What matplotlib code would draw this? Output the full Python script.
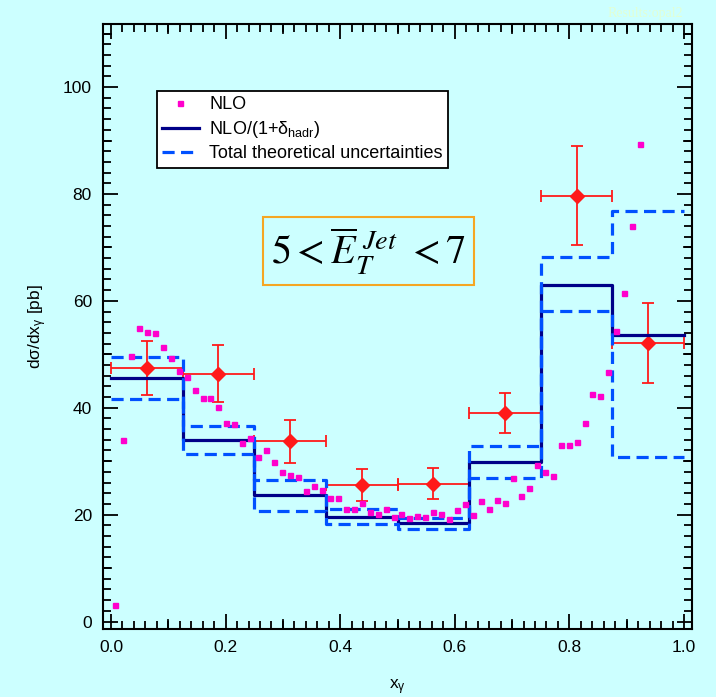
import matplotlib.pyplot as plt
import matplotlib.ticker as mticker
import numpy as np

plt.rcParams['font.family'] = ['Liberation Sans', 'DejaVu Sans']
plt.rcParams['mathtext.fontset'] = 'custom'
plt.rcParams['mathtext.rm'] = 'Liberation Sans'
plt.rcParams['mathtext.it'] = 'Liberation Sans:italic'

# bin edges in x_gamma
bin_edges = [0.0, 0.125, 0.25, 0.375, 0.5, 0.625, 0.75, 0.875, 1.0]

# NLO corrected for hadronisation (solid) and total theory band (dashed)
nlo_hadr = [45.5, 33.9, 23.6, 19.5, 18.4, 29.8, 63.0, 53.7]
theo_up = [49.4, 36.5, 26.4, 21.0, 19.3, 32.8, 68.2, 76.8]
theo_lo = [41.6, 31.4, 20.6, 18.2, 17.4, 26.8, 58.1, 30.7]

# measured data
data_x = [0.0625, 0.1875, 0.3125, 0.4375, 0.5625, 0.6875, 0.8125, 0.9375]
data_y = [47.4, 46.4, 33.7, 25.6, 25.8, 39.0, 79.7, 52.1]
data_err = [5.1, 5.4, 4.0, 3.0, 2.9, 3.7, 9.3, 7.5]
data_xerr = 0.0625

# fine-binned NLO (72 bins, points at bin centres)
nlo_y = [3.1, 34.0, 49.6, 54.9, 54.2, 54.0, 51.3, 49.3, 46.9, 45.7,
         43.3, 41.9, 41.8, 40.2, 37.2, 36.9, 33.4, 34.4, 30.8, 32.0,
         29.9, 28.0, 27.4, 27.0, 24.5, 25.3, 24.7, 23.1, 23.2, 21.0,
         21.0, 22.2, 20.4, 20.2, 21.1, 19.5, 20.2, 19.3, 19.7, 19.5,
         20.4, 20.2, 19.2, 20.9, 22.0, 19.9, 22.5, 21.1, 22.7, 22.2,
         26.8, 23.4, 24.9, 29.3, 27.9, 27.3, 33.1, 33.1, 33.5, 37.1,
         42.5, 42.2, 46.6, 54.4, 61.4, 74.0, 89.3]
nlo_x = (np.arange(len(nlo_y)) + 0.5) / 72

bg = '#CCFFFF'
fig = plt.figure(figsize=(7.16, 6.97), dpi=100, facecolor=bg)
ax = fig.add_axes([103 / 716, 1 - 629 / 697, (692 - 103) / 716, (629 - 24) / 697])
ax.set_facecolor(bg)


def steps(vals):
    return list(vals) + [vals[-1]]


ax.errorbar(data_x, data_y, yerr=data_err, xerr=data_xerr, fmt='D',
            color='#FF1A1A', markersize=7, elinewidth=1.3, capsize=4.5,
            capthick=1.3, zorder=2)
ax.step(bin_edges, steps(nlo_hadr), where='post', color='#000088',
        linewidth=2.3, zorder=3, label=r'NLO/(1+$\mathrm{δ}_{\rm hadr}$)')
ax.step(bin_edges, steps(theo_up), where='post', color='#0050FF',
        linewidth=2.3, dashes=(3.8, 2.0), zorder=4,
        label='Total theoretical uncertainties')
ax.step(bin_edges, steps(theo_lo), where='post', color='#0050FF',
        linewidth=2.3, dashes=(3.8, 2.0), zorder=4)
ax.plot(nlo_x, nlo_y, 's', color='#FF00CC', markersize=3.6, linestyle='none',
        zorder=5, label='NLO')

ax.set_xlim(-0.014, 1.014)
ax.set_ylim(-1.4, 111.8)

ax.xaxis.set_major_locator(mticker.MultipleLocator(0.2))
ax.xaxis.set_minor_locator(mticker.MultipleLocator(0.02))
ax.yaxis.set_major_locator(mticker.MultipleLocator(20))
ax.yaxis.set_minor_locator(mticker.MultipleLocator(2))
ax.xaxis.set_major_formatter(mticker.FormatStrFormatter('%.1f'))
ax.tick_params(which='both', direction='in', top=True, right=True,
               width=1.3, colors='black', labelsize=12.5)
ax.tick_params(which='major', length=11, pad=8)
ax.tick_params(which='minor', length=6)
for sp in ax.spines.values():
    sp.set_linewidth(1.5)

# medium ticks every 0.1 / 10
for xv in np.arange(0.1, 1.0, 0.2):
    ax.plot([xv, xv], [-1.4, -1.4 + 1.6], color='black', lw=1.3, clip_on=False, zorder=1)
    ax.plot([xv, xv], [111.8, 111.8 - 1.6], color='black', lw=1.3, clip_on=False, zorder=1)
for yv in np.arange(10, 111, 20):
    ax.plot([-0.014, -0.014 + 0.014], [yv, yv], color='black', lw=1.3, clip_on=False, zorder=1)
    ax.plot([1.014, 1.014 - 0.014], [yv, yv], color='black', lw=1.3, clip_on=False, zorder=1)

ax.set_xlabel(r'x$_{\mathrm{γ}}$', fontsize=12.5, labelpad=16)
ax.set_ylabel(r'd$\mathrm{σ}$/dx$_{\mathrm{γ}}$ [pb]', fontsize=12.5, labelpad=10)

handles, labels = ax.get_legend_handles_labels()
order = [2, 0, 1]
leg = ax.legend([handles[i] for i in order], [labels[i] for i in order],
                loc='upper left', bbox_to_anchor=(54 / 589, 1 - 67 / 605),
                fontsize=13, frameon=True, fancybox=False, edgecolor='black',
                facecolor='white', framealpha=1, borderpad=0.3,
                labelspacing=0.3, handlelength=2.0, handletextpad=0.6,
                borderaxespad=0.0)
leg.get_frame().set_linewidth(1.3)

ax.text(0.45, 69.3, r'$5 < \overline{E}_{T}^{\ Jet}\ < 7$', fontsize=29,
        ha='center', va='center', math_fontfamily='stix',
        bbox=dict(boxstyle='square,pad=0.2', facecolor=bg,
                  edgecolor='#F5A623', linewidth=1.5))

fig.text(645 / 716, 1 - 13 / 697, 'Results:opal2', color='#E2FFD4',
         fontsize=10, family='Liberation Serif', ha='center', va='center')

fig.savefig('out.png', dpi=100, facecolor=bg)
